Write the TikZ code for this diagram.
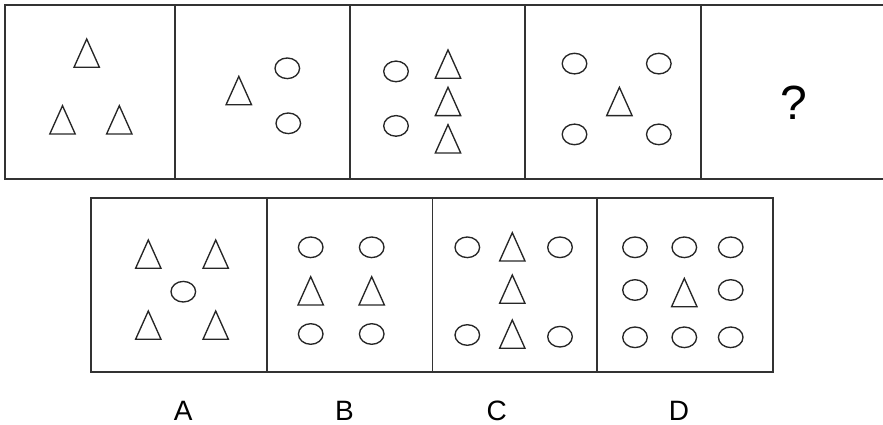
\documentclass[tikz,border=0pt]{standalone}
\usepackage{fontspec}
\setmainfont{Liberation Sans}
\begin{document}
\begin{tikzpicture}[x=1pt,y=-1pt,
  frame/.style={line width=1.8pt,draw=black!80},
  shp/.style={line width=1.35pt,draw=black!85},
  lbl/.style={inner sep=0pt,anchor=base,font=\fontsize{28}{30}\selectfont},
  tri/.pic={\draw[shp,line join=miter] (-12.7,0) -- (0,-28.3) -- (12.7,0) -- cycle;},
  ell/.pic={\draw[shp] (0,0) ellipse [x radius=12.3pt,y radius=10.3pt];}]
\useasboundingbox (0,0) rectangle (883,425);
% top row frame
\draw[frame] (900,5) -- (5,5) -- (5,179) -- (900,179);
\foreach \x in {175,350,525,701} \draw[frame] (\x,5) -- (\x,179);
% panel 1
\pic at (86.7,67.3) {tri};
\pic at (62.5,134) {tri};
\pic at (119.3,134) {tri};
% panel 2
\pic at (238.8,104.7) {tri};
\pic at (287.3,68.3) {ell};
\pic at (288.3,123.3) {ell};
% panel 3
\pic at (396,71.4) {ell};
\pic at (396,125.9) {ell};
\pic at (448,78.2) {tri};
\pic at (448,115.6) {tri};
\pic at (448,153) {tri};
% panel 4
\pic at (574.5,63.6) {ell};
\pic at (658.8,63.6) {ell};
\pic at (574.5,134.4) {ell};
\pic at (658.8,134.4) {ell};
\pic at (619.4,115.6) {tri};
% question mark
\node[inner sep=0pt,anchor=base,font=\fontsize{48}{50}\selectfont] (q) at (794,120) {?};
% bottom row frame
\draw[frame] (91,198.3) rectangle (772.7,372.3);
\foreach \x in {267,432.5,596.7} \draw[frame] (\x,198.3) -- (\x,372.3);
% A
\pic at (148.3,268.3) {tri};
\pic at (215.7,268.3) {tri};
\pic at (148.3,339.3) {tri};
\pic at (215.7,339.3) {tri};
\pic at (183.3,291.7) {ell};
% B
\pic at (310.7,247.3) {ell};
\pic at (371.7,247.3) {ell};
\pic at (310.7,334) {ell};
\pic at (371.7,334) {ell};
\pic at (310.7,305) {tri};
\pic at (371.7,305) {tri};
% C
\pic at (467.3,247.3) {ell};
\pic at (560,247.3) {ell};
\pic at (467.3,335) {ell};
\pic at (560,336.7) {ell};
\pic at (512.3,261) {tri};
\pic at (512.3,303.3) {tri};
\pic at (512.3,348.3) {tri};
% D
\foreach \x in {635,684.3,730.7} {\pic at (\x,247.3) {ell}; \pic at (\x,337.3) {ell};}
\pic at (635,290) {ell};
\pic at (730.7,290) {ell};
\pic at (684.3,306.7) {tri};
% labels
\node[lbl] (la) at (183.3,420) {A};
\node[lbl] (lb) at (344.5,420) {B};
\node[lbl] (lc) at (496.7,420) {C};
\node[lbl] (ld) at (679,420) {D};
\end{tikzpicture}
\end{document}
